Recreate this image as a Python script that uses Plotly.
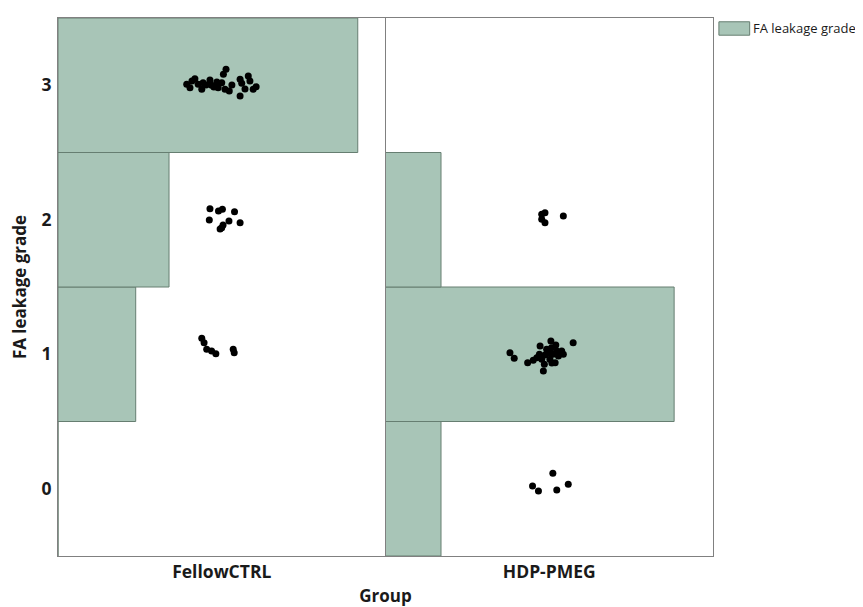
import plotly.graph_objects as go

# ---- data ----
groups = ["FellowCTRL", "HDP-PMEG"]
grades = [0, 1, 2, 3]
counts_fellow = [0, 7, 10, 27]
counts_hdp = [5, 26, 5, 0]

# jittered points (grade, horizontal jitter in category units, vertical jitter in grade units)
fellow_grade = [3]*27 + [2]*10 + [1]*7
fellow_jx = [-0.107, -0.097, -0.082, -0.072, -0.061, -0.057, -0.036, -0.031, -0.015, -0.011,
             0.0, 0.005, 0.013, 0.010, 0.023, 0.056, 0.056, 0.061, 0.081, 0.086, 0.096, 0.105,
             -0.091, -0.048, -0.024, 0.031, 0.071,
             -0.036, -0.010, 0.002, 0.039, -0.038, 0.022, 0.0, 0.056, 0.004, -0.005,
             -0.061, -0.054, -0.046, -0.031, -0.018, 0.035, 0.038]
fellow_jy = [0.007, -0.018, 0.049, 0.007, -0.030, 0.019, 0.039, 0.0, 0.024, -0.018,
             0.019, 0.081, 0.119, -0.030, -0.043, 0.044, -0.080, 0.014, 0.069, 0.032, -0.030, -0.011,
             0.032, 0.002, -0.013, 0.002, -0.028,
             0.082, 0.065, 0.078, 0.060, -0.002, -0.009, -0.059, -0.022, -0.039, -0.069,
             0.119, 0.086, 0.037, 0.024, 0.004, 0.037, 0.012]

hdp_grade = [2]*5 + [1]*26 + [0]*5
hdp_jx = [-0.023, -0.013, -0.023, -0.013, 0.043,
          -0.120, -0.107, -0.066, -0.049, -0.038, -0.030, -0.028, -0.015, -0.018, -0.008,
          -0.003, 0.005, 0.007, 0.012, 0.002, 0.023, 0.028, 0.038, 0.043, 0.073, 0.018, -0.023,
          -0.013, -0.001, 0.020, 0.008,
          -0.051, -0.033, 0.011, 0.023, 0.058]
hdp_jy = [0.041, 0.052, 0.003, -0.022, 0.028,
          0.012, -0.030, -0.063, -0.045, -0.026, 0.0, 0.061, -0.075, -0.125, 0.037,
          0.012, 0.099, 0.049, 0.0, -0.038, 0.024, -0.013, 0.024, 0.0, 0.086, -0.063, -0.038,
          -0.006, 0.032, 0.069, -0.065,
          0.020, -0.017, 0.115, -0.009, 0.033]

PANEL_SPAN = 29.5  # count-axis length of one group panel

BAR_FILL = "#a8c5b7"
BAR_LINE = "#667e71"
FRAME = "#808080"
FONT = "Open Sans"
TXT = "#1a1a1a"

fig = go.Figure()

fig.add_trace(go.Bar(orientation="h", y=grades, x=counts_fellow, base=0, width=1,
                     marker=dict(color=BAR_FILL, line=dict(color=BAR_LINE, width=1)),
                     xaxis="x", yaxis="y", showlegend=False, hoverinfo="skip"))
fig.add_trace(go.Bar(orientation="h", y=grades, x=counts_hdp, base=PANEL_SPAN, width=1,
                     marker=dict(color=BAR_FILL, line=dict(color=BAR_LINE, width=1)),
                     xaxis="x", yaxis="y", showlegend=False, hoverinfo="skip"))

fig.add_trace(go.Scatter(x=[0 + j for j in fellow_jx],
                         y=[g + j for g, j in zip(fellow_grade, fellow_jy)],
                         mode="markers", marker=dict(color="black", size=7),
                         xaxis="x2", yaxis="y", showlegend=False))
fig.add_trace(go.Scatter(x=[1 + j for j in hdp_jx],
                         y=[g + j for g, j in zip(hdp_grade, hdp_jy)],
                         mode="markers", marker=dict(color="black", size=7),
                         xaxis="x2", yaxis="y", showlegend=False))

fig.update_layout(
    width=855, height=599,
    margin=dict(l=50, r=150, t=10, b=51),
    paper_bgcolor="white", plot_bgcolor="white",
    barmode="overlay",
    font=dict(family=FONT, color=TXT),
    xaxis=dict(range=[0, 2 * PANEL_SPAN], visible=False, domain=[0, 1], automargin=False),
    xaxis2=dict(overlaying="x", range=[-0.5, 1.5], tickvals=[0, 1], ticktext=groups,
                showgrid=False, zeroline=False, showline=True, mirror=True, automargin=False,
                linecolor=FRAME, linewidth=1, ticks="", ticklabelstandoff=0,
                tickfont=dict(size=17.5, family=FONT, color=TXT, weight="bold"),
                title=dict(text="Group", font=dict(size=17, weight="bold", color=TXT), standoff=11)),
    yaxis=dict(range=[-0.5, 3.5], tickvals=grades, showgrid=False, zeroline=False, automargin=False,
               showline=True, mirror=True, linecolor=FRAME, linewidth=1, ticks="",
               tickfont=dict(size=17.5, family=FONT, color=TXT, weight="bold"),
               ticklabelstandoff=2,
               title=dict(text="FA leakage grade", font=dict(size=17, weight="bold", color=TXT), standoff=12)),
    shapes=[
        dict(type="line", xref="x2", yref="paper", x0=0.5, x1=0.5, y0=0, y1=1,
             line=dict(color=FRAME, width=1)),
        dict(type="rect", xref="paper", yref="paper", x0=1.009, x1=1.056, y0=0.968, y1=0.993,
             fillcolor=BAR_FILL, line=dict(color=BAR_LINE, width=1)),
    ],
    annotations=[
        dict(text="FA leakage grade", xref="paper", yref="paper", x=1.058, y=0.981,
             xanchor="left", yanchor="middle", showarrow=False,
             font=dict(size=13, family=FONT, color=TXT)),
    ],
)

fig.write_html("out.html")
